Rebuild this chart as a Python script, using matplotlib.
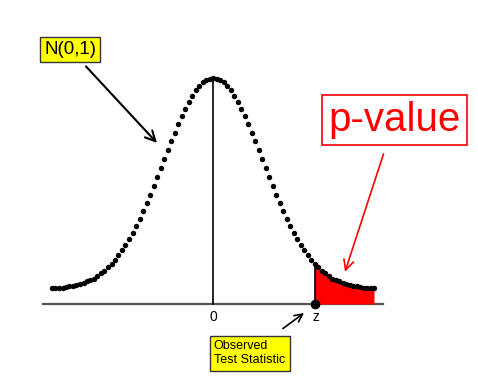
import numpy as np
import matplotlib.pyplot as plt

# curve heights (x in sd units, right half; left half mirrored)
x_half = [0.00, 0.07, 0.14, 0.21, 0.28, 0.35, 0.42, 0.49, 0.56, 0.63, 0.70,
          0.77, 0.84, 0.91, 0.98, 1.05, 1.12, 1.19, 1.26, 1.33, 1.40, 1.47,
          1.54, 1.61, 1.68, 1.75, 1.82, 1.89, 1.96, 2.03, 2.10, 2.17, 2.24,
          2.31, 2.38, 2.45, 2.52, 2.59, 2.66, 2.73, 2.80, 2.87, 2.94, 3.01,
          3.08, 3.15, 3.22]
y_half = [0.400, 0.399, 0.396, 0.392, 0.386, 0.378, 0.368, 0.357, 0.345,
          0.332, 0.318, 0.303, 0.288, 0.272, 0.256, 0.240, 0.224, 0.209,
          0.193, 0.179, 0.164, 0.151, 0.138, 0.126, 0.115, 0.105, 0.095,
          0.086, 0.078, 0.071, 0.065, 0.059, 0.054, 0.049, 0.045, 0.042,
          0.040, 0.038, 0.036, 0.034, 0.032, 0.031, 0.030, 0.029, 0.029,
          0.028, 0.028]

x_vals = np.array([-v for v in x_half[:0:-1]] + x_half)
y_vals = np.array(y_half[:0:-1] + y_half)

z_obs = 2.03
tick_labels = ["0", "z"]

fig = plt.figure(figsize=(4.78, 3.80), dpi=100)
ax = fig.add_axes([0, 0, 1, 1])
ax.set_xlim(-4.26, 5.30)
ax.set_ylim(-0.1345, 0.538)
ax.axis("off")

# baseline and centre line
ax.plot([-3.4, 3.4], [0, 0], color="#555555", lw=1.6, zorder=1)
ax.plot([0, 0], [0, y_vals.max()], color="black", lw=1.2, zorder=1)

# shaded tail
tail = x_vals >= z_obs
ax.fill_between(x_vals[tail], 0, y_vals[tail], color="red", lw=0, zorder=2)
ax.plot([z_obs, z_obs], [0, y_vals[tail][0]], color="black", lw=1.2, zorder=3)

# dotted density curve
ax.plot(x_vals, y_vals, "o", ms=3.9, mew=0, color="black", zorder=4)
ax.plot([z_obs], [0], "o", ms=6, color="black", zorder=5)

ax.text(0, -0.010, tick_labels[0], ha="center", va="top", fontsize=10,
        family="Liberation Sans")
ax.text(z_obs + 0.02, -0.010, tick_labels[1], ha="center", va="top",
        fontsize=10, family="Liberation Sans")

# labels with arrows
ax.annotate("N(0,1)", xy=(-1.12, 0.285), xytext=(-2.86, 0.451),
            ha="center", va="center", fontsize=13.5, family="Liberation Sans",
            bbox=dict(boxstyle="square,pad=0.22", fc="yellow", ec="#333333", lw=1),
            arrowprops=dict(arrowstyle="->", color="black", lw=1.5,
                            shrinkA=4, shrinkB=0, mutation_scale=18))

ax.annotate("p-value", xy=(2.64, 0.057), xytext=(3.63, 0.325),
            ha="center", va="center", fontsize=29, color="red",
            family="Liberation Sans",
            bbox=dict(boxstyle="square,pad=0.15", fc="white", ec="red", lw=1.2),
            arrowprops=dict(arrowstyle="->", color="red", lw=1.2,
                            shrinkA=6, shrinkB=0, mutation_scale=18))

ax.annotate("Observed\nTest Statistic", xy=(1.82, -0.016), xytext=(0.73, -0.087),
            ha="center", va="center", fontsize=9, family="Liberation Sans",
            multialignment="left", linespacing=1.25,
            bbox=dict(boxstyle="square,pad=0.35", fc="yellow", ec="#333333", lw=1),
            arrowprops=dict(arrowstyle="->", color="black", lw=1.2,
                            shrinkA=8, shrinkB=0, mutation_scale=14))

fig.savefig("out.png", dpi=100)
